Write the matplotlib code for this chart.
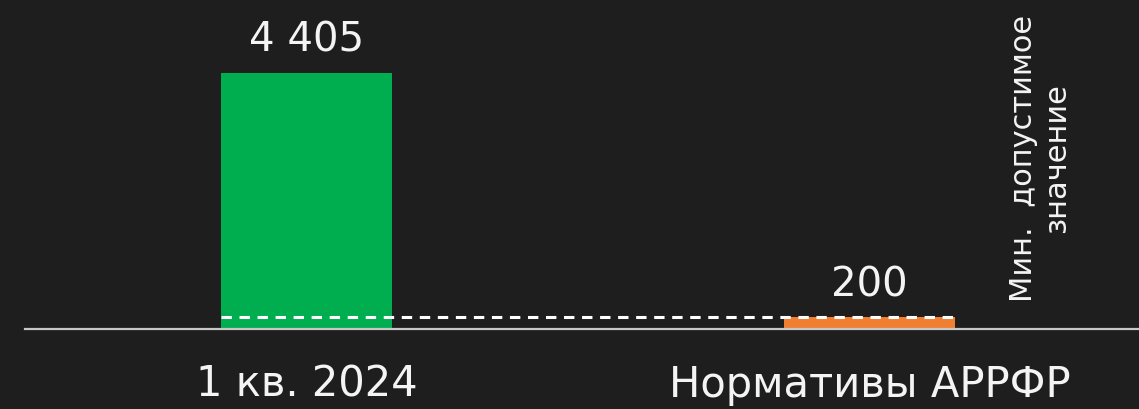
import matplotlib
matplotlib.use("Agg")
import matplotlib.pyplot as plt

categories = ["1 кв. 2024", "Нормативы АРРФР"]
values = [4405, 200]
value_labels = ["4 405", "200"]
min_allowed = 200
min_label = "Мин.  допустимое\nзначение"

bg = "#1e1e1e"
colors = ["#00ae4f", "#f07f32"]
text_color = "#f4f4f4"

plt.rcParams["font.family"] = ["DejaVu Sans"]

W, H = 1139, 409
fig = plt.figure(figsize=(W / 100, H / 100), dpi=100, facecolor=bg)
ax = fig.add_axes([25 / W, 80 / H, 1 - 25 / W, 1 - 80 / H], facecolor=bg)

x = list(range(len(categories)))
bw = 0.3037
ax.bar(x, values, width=bw, color=colors, zorder=2)

ax.set_xlim(-0.5, 1.4787)
ax.set_ylim(0, 4405 * 329 / 256)

# dashed minimum line from left edge of first bar to right edge of last bar
ax.plot([x[0] - bw / 2, x[-1] + bw / 2 + 0.004], [min_allowed, min_allowed],
        color="white", lw=2.2, linestyle=(0, (3.4, 2.5)), zorder=3,
        solid_capstyle="butt", dash_capstyle="butt")

for xi, v, lab in zip(x, values, value_labels):
    ax.annotate(lab, (xi, v), xytext=(0, 21 * 0.72), textcoords="offset points",
                ha="center", va="baseline", fontsize=29, color=text_color)

for sp in ["top", "right", "left"]:
    ax.spines[sp].set_visible(False)
ax.spines["bottom"].set_color("#c8c8c8")
ax.spines["bottom"].set_linewidth(1.6)
ax.spines["bottom"].set_zorder(4)
ax.set_yticks([])
ax.set_xticks(x)
ax.set_xticklabels(categories, fontsize=30, color=text_color)
ax.tick_params(axis="x", length=0, pad=25)

fig.text(1040 / W, 1 - 158 / H, min_label, rotation=90, ha="center", va="center",
         multialignment="center", fontsize=22, color=text_color, linespacing=1.2)

fig.savefig("out.png", dpi=100, facecolor=bg)
